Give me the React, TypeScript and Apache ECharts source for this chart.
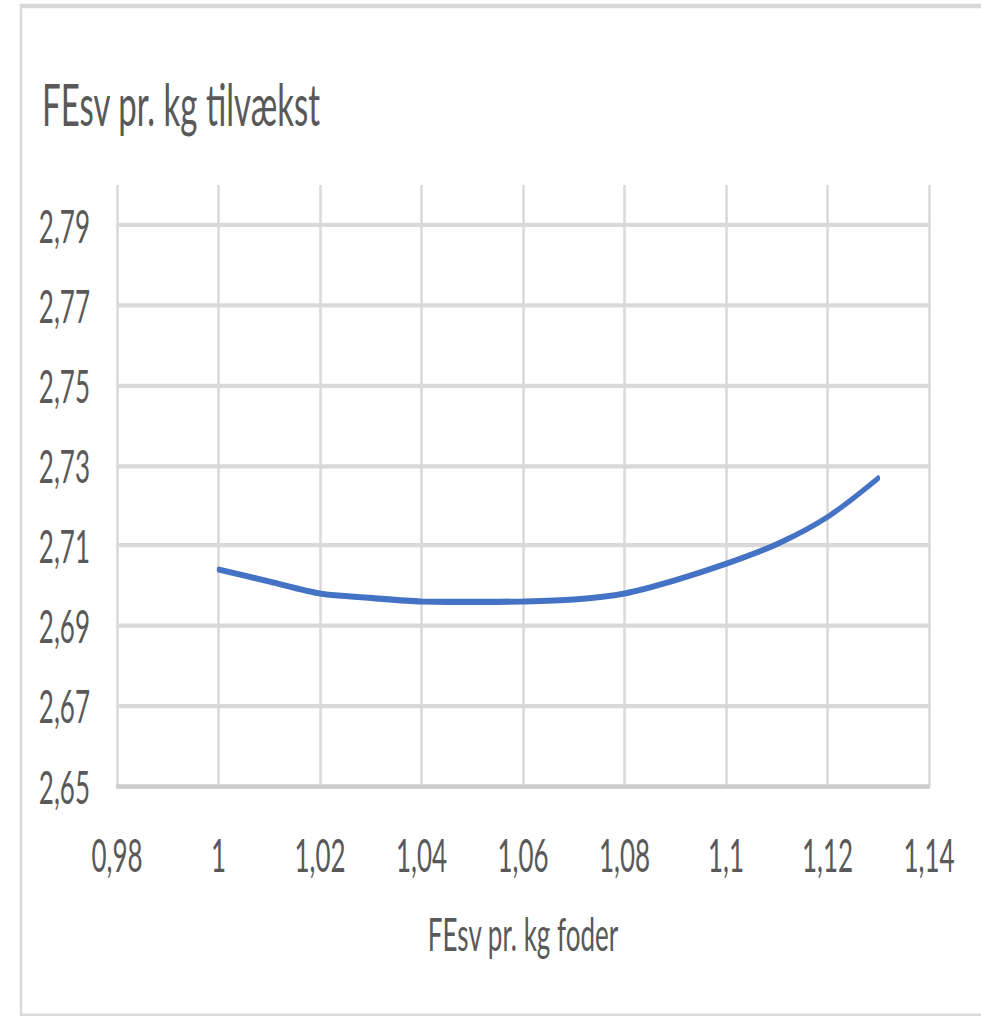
import React, { useEffect, useRef } from "react";
import * as echarts from "echarts";

const titleText = "FEsv pr. kg tilvækst";
const xAxisName = "FEsv pr. kg foder";
const xValues = [1.0, 1.01, 1.02, 1.03, 1.04, 1.05, 1.06, 1.07, 1.08, 1.09, 1.1, 1.11, 1.12, 1.13];
const yValues = [2.704, 2.701, 2.698, 2.6969, 2.696, 2.6959, 2.696, 2.6965, 2.698, 2.7013, 2.7054, 2.7103, 2.7171, 2.7268];
const yTicks = [2.65, 2.67, 2.69, 2.71, 2.73, 2.75, 2.77, 2.79];
const xMin = 0.98;
const xMax = 1.14;
const xStep = 0.02;
const yMin = 2.65;
const yMax = 2.8;

const SCALE_Y = 1.75;
const W = 981;
const H = 1016 / SCALE_Y;
const FONT = "Lato, 'Open Sans', sans-serif";
const TXT = "#595959";
const GRID = "#d9d9d9";

const fmt = (v: number) => String(Math.round(v * 100) / 100).replace(".", ",");

export default function App() {
  const ref = useRef<HTMLDivElement>(null);
  useEffect(() => {
    if (!ref.current) return;
    const chart = echarts.init(ref.current, undefined, { renderer: "svg" });
    chart.setOption({
      animation: false,
      backgroundColor: "#ffffff",
      title: {
        text: titleText,
        left: 37,
        top: 38,
        textStyle: { fontFamily: FONT, fontSize: 33, fontWeight: "normal", color: TXT },
      },
      graphic: [
        {
          type: "rect",
          shape: { x: 21, y: 3.4, width: 990, height: 577 },
          style: { fill: "none", stroke: GRID, lineWidth: 2.5 },
          silent: true,
        },
      ],
      grid: { left: 117, right: 52, top: 105.7, bottom: 132, containLabel: false },
      xAxis: {
        type: "value",
        min: xMin,
        max: xMax,
        interval: xStep,
        name: xAxisName,
        nameLocation: "middle",
        nameGap: 71,
        nameTextStyle: { fontFamily: FONT, fontSize: 26, color: TXT },
        axisLine: { show: true, lineStyle: { color: "#cccccc", width: 2.5 } },
        axisTick: { show: false },
        axisLabel: { formatter: fmt, margin: 26, fontFamily: FONT, fontSize: 26, color: TXT },
        splitLine: { show: true, lineStyle: { color: GRID, width: 2.5 } },
      },
      yAxis: {
        type: "value",
        min: yMin,
        max: yMax,
        axisLine: { show: false },
        axisTick: { show: false, customValues: yTicks },
        axisLabel: { customValues: yTicks, formatter: fmt, margin: 27, fontFamily: FONT, fontSize: 26, color: TXT },
        splitLine: { show: true, lineStyle: { color: GRID, width: 2.5 } },
      },
      series: [
        {
          type: "line",
          data: xValues.map((x, i) => [x, yValues[i]]),
          smooth: 0.3,
          showSymbol: false,
          lineStyle: { color: "#4472C4", width: 3.5, cap: "round" },
          itemStyle: { color: "#4472C4" },
        },
      ],
    });
    return () => chart.dispose();
  }, []);
  return (
    <div
      ref={ref}
      style={{
        position: "absolute",
        left: 0,
        top: 0,
        width: W,
        height: H,
        transform: `scaleY(${SCALE_Y})`,
        transformOrigin: "top left",
      }}
    />
  );
}
